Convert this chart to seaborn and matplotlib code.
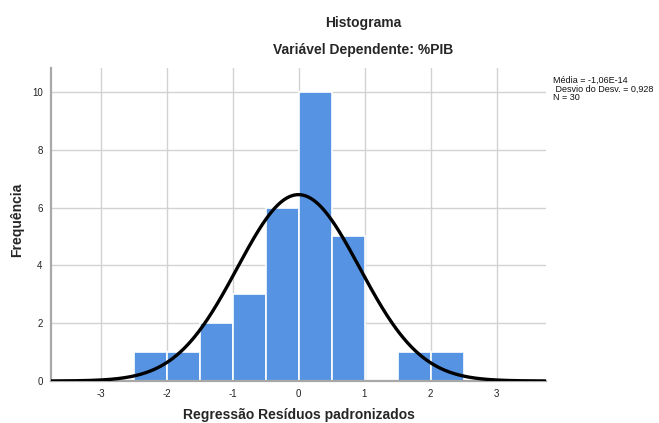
import numpy as np
import pandas as pd
import matplotlib
matplotlib.use("Agg")
import matplotlib.pyplot as plt
import seaborn as sns

# Data
bin_edges = [-2.5, -2.0, -1.5, -1.0, -0.5, 0.0, 0.5, 1.0, 1.5, 2.0, 2.5]
bin_counts = [1, 1, 2, 3, 6, 10, 5, 0, 1, 1]
mean_val = -1.06e-14
sd_val = 0.928
n_obs = 30
x_ticks = [-3, -2, -1, 0, 1, 2, 3]
y_ticks = [0, 2, 4, 6, 8, 10]
legend_lines = ["Média = -1,06E-14", " Desvio do Desv. = 0,928", "N = 30"]

sns.set_theme(style="white")
plt.rcParams['font.family'] = ['Liberation Sans', 'DejaVu Sans']

W, H = 659, 423
fig = plt.figure(figsize=(W / 100, H / 100), dpi=100)
ax = fig.add_axes([51 / W, 1 - 381 / H, (546 - 51) / W, (381 - 68) / H])

centers = [(bin_edges[i] + bin_edges[i + 1]) / 2 for i in range(len(bin_counts))]
df = pd.DataFrame({"x": centers, "w": bin_counts})
sns.histplot(data=df, x="x", weights="w", bins=bin_edges, ax=ax,
             color="#5694E3", alpha=1.0, edgecolor="white", linewidth=1.2, zorder=2)

bw = bin_edges[1] - bin_edges[0]
xs = np.linspace(-3.75, 3.75, 400)
ys = n_obs * bw * np.exp(-0.5 * ((xs - mean_val) / sd_val) ** 2) / (sd_val * np.sqrt(2 * np.pi))
sns.lineplot(x=xs, y=ys, ax=ax, color="black", linewidth=2.4, zorder=3)

ax.set_xlim(-3.75, 3.75)
ax.set_ylim(0, 10.83)
ax.set_xticks(x_ticks)
ax.set_yticks(y_ticks)
ax.set_xticklabels([str(t) for t in x_ticks], fontsize=7, color="#222222")
ax.set_yticklabels([str(t) for t in y_ticks], fontsize=7, color="#222222")
ax.tick_params(axis="both", length=0, pad=6)
ax.grid(True, color="#D2D2D2", linewidth=1.0, zorder=0)
ax.set_axisbelow(True)
for s in ["top", "right"]:
    ax.spines[s].set_visible(False)
ax.spines["left"].set_color("#A8A8A8")
ax.spines["left"].set_linewidth(1.6)
ax.spines["bottom"].set_color("#A8A8A8")
ax.spines["bottom"].set_linewidth(1.6)

ax.set_xlabel("Regressão Resíduos padronizados", fontsize=10, fontweight="bold")
ax.xaxis.label.set_va("center")
ax.xaxis.set_label_coords((299 - 51) / 495, (381 - 415) / 313)
ax.set_ylabel("Frequência", fontsize=10, fontweight="bold")
ax.yaxis.label.set_va("center")
ax.yaxis.set_label_coords((17 - 51) / 495, (381 - 220) / 313)

fig.text(363 / W, 1 - 23 / H, "Histograma", ha="center", va="center", fontsize=10, fontweight="bold")
fig.text(363 / W, 1 - 50 / H, "Variável Dependente: %PIB", ha="center", va="center",
         fontsize=10, fontweight="bold")

for i, line in enumerate(legend_lines):
    fig.text(553 / W, 1 - (80 + 9 * i) / H, line, ha="left", va="center",
             fontsize=6.5, color="#111111")

fig.savefig("out.png", dpi=100, facecolor="white")
